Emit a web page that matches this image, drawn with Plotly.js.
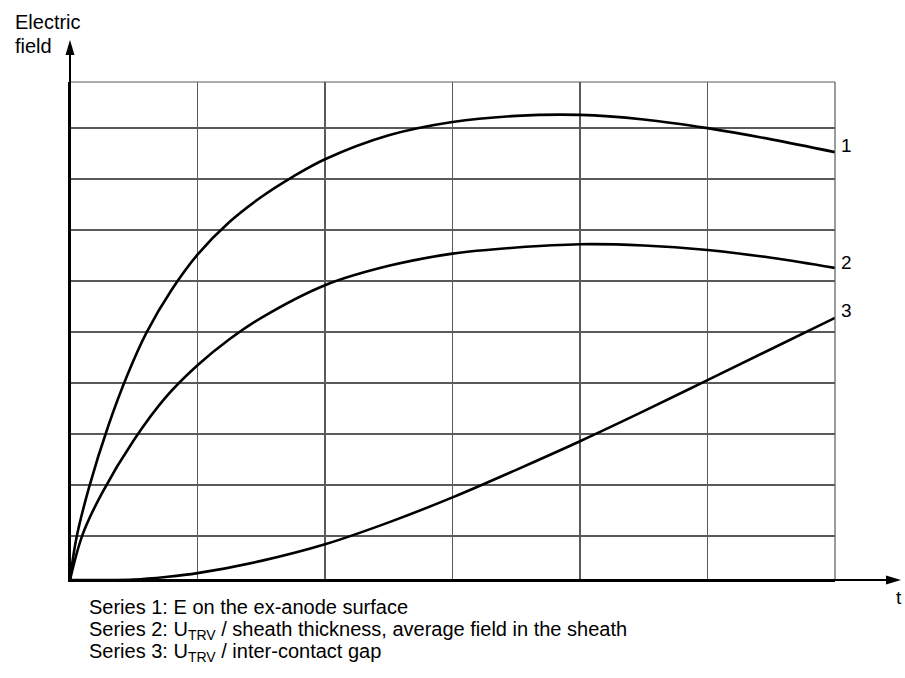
<!DOCTYPE html>
<html><head><meta charset="utf-8">
<script src="https://cdn.plot.ly/plotly-3.0.1.min.js"></script>
<style>html,body{margin:0;padding:0;background:#fff;}#chart{width:905px;height:678px;}</style>
</head><body><div id="chart"></div>
<script>
// Series 1: E on the ex-anode surface
const t1 = [0, 0.05, 0.15, 0.3, 0.45, 0.6, 0.8, 1.0, 1.25, 1.5, 1.75, 2.0, 2.5, 3.0, 3.5, 4.0, 4.5, 5.0, 5.5, 6.0];
const e1 = [0, 0.82, 1.82, 3.02, 4.02, 4.85, 5.70, 6.38, 7.02, 7.51, 7.91, 8.25, 8.72, 8.98, 9.10, 9.12, 9.03, 8.86, 8.64, 8.39];
// Series 2: U_TRV / sheath thickness, average field in the sheath
const t2 = [0, 0.1, 0.25, 0.5, 0.75, 1.0, 1.25, 1.5, 2.0, 2.5, 3.0, 3.5, 4.0, 4.5, 5.0, 5.5, 6.0];
const e2 = [0, 0.90, 1.70, 2.74, 3.58, 4.21, 4.72, 5.14, 5.78, 6.16, 6.40, 6.52, 6.585, 6.56, 6.47, 6.32, 6.12];
// Series 3: U_TRV / inter-contact gap
const t3 = [0, 0.25, 0.5, 0.75, 1.0, 1.5, 2.0, 2.5, 3.0, 3.5, 4.0, 4.5, 5.0, 5.5, 6.0];
const e3 = [0, 0.0, 0.01, 0.06, 0.135, 0.375, 0.70, 1.13, 1.62, 2.16, 2.72, 3.31, 3.92, 4.53, 5.14];

const seriesLabels = ['1', '2', '3'];
const footnotes = [
  'Series 1: E on the ex-anode surface',
  'Series 2: U<sub>TRV</sub> / sheath thickness, average field in the sheath',
  'Series 3: U<sub>TRV</sub> / inter-contact gap'
];
const yTitleLines = ['Electric', 'field'];
const xTitle = 't';
const xGrid = [1, 2, 3, 4, 5];
const yGrid = [0.863, 1.863, 2.863, 3.863, 4.863, 5.863, 6.863, 7.863, 8.863];

const FONT = 'Liberation Sans, Arial, Helvetica, sans-serif';
const GRID = '#5a5a5a';
const L = 70, R = 835, T = 82, B = 580;
const px2x = p => (p - L) / (R - L);
const py2y = p => (B - p) / (B - T);

const series = [[t1, e1], [t2, e2], [t3, e3]];
const traces = series.map(([x, y]) => ({
  x: x, y: y, type: 'scatter', mode: 'lines',
  line: {color: '#000', width: 2.6, shape: 'spline', smoothing: 1},
  hoverinfo: 'skip', showlegend: false
}));

const labelShift = [7, 5, 7];
const annotations = [];
series.forEach(([x, y], i) => {
  annotations.push({
    xref: 'x', yref: 'y', x: x[x.length - 1], y: y[y.length - 1],
    text: seriesLabels[i], showarrow: false, xanchor: 'left', yanchor: 'middle',
    xshift: 4, yshift: labelShift[i], font: {family: FONT, size: 19, color: '#000'}
  });
});
yTitleLines.forEach((s, i) => {
  annotations.push({
    xref: 'paper', yref: 'paper', x: px2x(13), y: py2y(22 + i * 24),
    text: s, showarrow: false, xanchor: 'left', yanchor: 'middle',
    font: {family: FONT, size: 20, color: '#000'}
  });
});
annotations.push({
  xref: 'paper', yref: 'paper', x: px2x(899), y: py2y(597),
  text: xTitle, showarrow: false, xanchor: 'center', yanchor: 'middle',
  font: {family: FONT, size: 19, color: '#000'}
});
footnotes.forEach((s, i) => {
  annotations.push({
    xref: 'paper', yref: 'paper', x: px2x(87), y: py2y(594 + i * 22),
    text: s, showarrow: false, xanchor: 'left', yanchor: 'top',
    font: {family: FONT, size: 20, color: '#000'}
  });
});

const shapes = [
  // top and right frame of the grid
  {type: 'line', xref: 'paper', yref: 'paper', x0: 0, x1: 1, y0: 1, y1: 1, line: {color: GRID, width: 1.2}},
  {type: 'line', xref: 'paper', yref: 'paper', x0: 1, x1: 1, y0: 0, y1: 1, line: {color: GRID, width: 1.2}},
  // axis line extensions
  {type: 'line', xref: 'paper', yref: 'paper', x0: 0, x1: 0, y0: 0, y1: py2y(52), line: {color: '#000', width: 2}},
  {type: 'line', xref: 'paper', yref: 'paper', x0: 0, x1: px2x(888), y0: 0, y1: 0, line: {color: '#000', width: 2}},
  // arrow heads
  {type: 'path', xref: 'paper', yref: 'paper', xsizemode: 'pixel', ysizemode: 'pixel',
   xanchor: 0, yanchor: py2y(55), path: 'M-4.5,0 L4.5,0 L0,15 Z', fillcolor: '#000', line: {width: 0}},
  {type: 'path', xref: 'paper', yref: 'paper', xsizemode: 'pixel', ysizemode: 'pixel',
   xanchor: px2x(886), yanchor: 0, path: 'M0,-4.5 L0,4.5 L15,0 Z', fillcolor: '#000', line: {width: 0}}
];

const layout = {
  width: 905, height: 678,
  margin: {l: L, r: 905 - R, t: T, b: 678 - B, pad: 0},
  paper_bgcolor: '#fff', plot_bgcolor: '#fff',
  showlegend: false,
  xaxis: {range: [0, 6], tickvals: xGrid, showticklabels: false, ticks: '',
          showgrid: true, gridcolor: GRID, gridwidth: 1.2, zeroline: false,
          showline: true, linecolor: '#000', linewidth: 2, fixedrange: true},
  yaxis: {range: [0, 9.765], tickvals: yGrid, showticklabels: false, ticks: '',
          showgrid: true, gridcolor: GRID, gridwidth: 1.2, zeroline: false,
          showline: true, linecolor: '#000', linewidth: 2, fixedrange: true},
  annotations: annotations,
  shapes: shapes
};

Plotly.newPlot('chart', traces, layout, {displayModeBar: false, staticPlot: true});
</script>
</body></html>
